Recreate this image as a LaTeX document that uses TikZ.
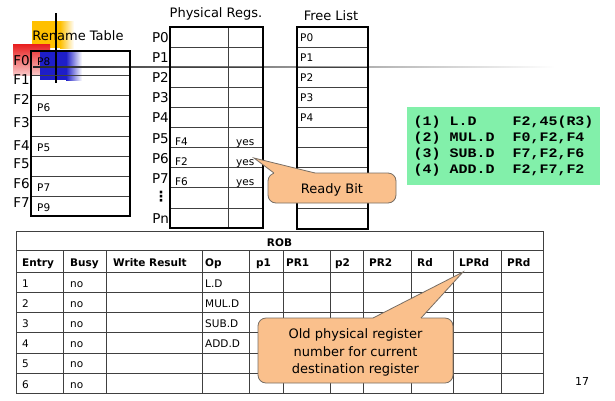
\documentclass[tikz,border=0pt]{standalone}
\usepackage{fontspec}
\setmainfont{DejaVu Sans}
\newfontfamily\codefont{Liberation Mono}[FakeStretch=1.15]
\definecolor{decoyellow}{RGB}{255,192,0}
\definecolor{decored}{RGB}{232,30,30}
\definecolor{decoblue}{RGB}{30,30,200}
\definecolor{codegreen}{RGB}{130,240,170}
\definecolor{callfill}{RGB}{250,192,140}
\definecolor{callline}{RGB}{120,110,100}
\begin{document}
\begin{tikzpicture}[x=1pt,y=-1pt,
  lbl/.style={inner sep=0,anchor=base east,font=\fontsize{13.5}{16}\selectfont},
  ttl/.style={inner sep=0,anchor=base,font=\fontsize{13}{15}\selectfont},
  cell/.style={inner sep=0,anchor=base west,font=\fontsize{10.5}{12}\selectfont},
  rcell/.style={inner sep=0,anchor=base west,font=\fontsize{10.5}{12}\selectfont},
  hdr/.style={inner sep=0,anchor=base west,font=\bfseries\fontsize{10.5}{12}\selectfont},
  code/.style={inner sep=0,anchor=base west,font=\codefont\bfseries\fontsize{13}{15}\selectfont},
  outer/.style={draw=black,line width=1.3},
  inner/.style={draw=black!75,line width=0.8},
  callout/.style={fill=callfill,draw=callline,line width=0.8,rounded corners=8},
  callt/.style={inner sep=0,anchor=base,font=\fontsize{13}{15}\selectfont},
]
\useasboundingbox (0,0) rectangle (615,400);
\fill[white] (0,0) rectangle (615,400);

% decoration
\fill[decoyellow] (32,21) rectangle (60,48);
\shade[left color=decoyellow,right color=white] (60,21) rectangle (74,48);
\shade[top color=decored,bottom color=decored!25] (13,44) rectangle (50,75);
\fill[decoblue] (40,52) rectangle (66,80);
\shade[left color=decoblue,right color=white] (66,52) rectangle (82,80);
\shade[left color=black!85,middle color=black!30,right color=white] (33,66.2) rectangle (555,67.8);
\draw[black,line width=1.5] (56,13) -- (56,83);

% rename table
\node[ttl] (rttitle) at (78,40) {Rename Table};
\draw[inner] foreach \y in {75,95,116,136,156,176,196} {(31,\y) -- (130,\y)};
\draw[outer] (31,51) rectangle (130,216);
\foreach \t/\b [count=\i from 0] in {F0/65,F1/84,F2/104,F3/127,F4/150,F5/168,F6/188,F7/207}
  \node[lbl] (rl\i) at (30,\b) {\t};
\foreach \t/\b [count=\i] in {P8/65,P6/111,P5/151,P7/191,P9/211}
  \node[rcell] (re\i) at (37,\b) {\t};

% physical registers
\node[ttl] (prtitle) at (216,17) {Physical Regs.};
\draw[inner] foreach \k in {1,...,9} {(170,27+20.1*\k) -- (263,27+20.1*\k)};
\draw[inner] (228,27) -- (228,228);
\draw[outer] (170,27) rectangle (263,228);
\foreach \t [count=\i from 0] in {P0,P1,P2,P3,P4,P5,P6,P7}
  \node[lbl] (pl\i) at (169,42.5+20.1*\i) {\t};
\node[inner sep=0,anchor=center,font=\bfseries\fontsize{14}{16}\selectfont] (pldots) at (161,197) {⋮};
\node[lbl] (pln) at (169,223) {Pn};
\foreach \f [count=\i from 0] in {F4,F2,F6} {
  \node[cell] (pf\i) at (175,145+20.1*\i) {\f};
  \node[cell] (py\i) at (236,145+20.1*\i) {yes};
}

% free list
\node[ttl] (fltitle) at (331,20) {Free List};
\draw[inner] foreach \k in {1,...,9} {(297,27+20.1*\k) -- (368,27+20.1*\k)};
\draw[outer] (297,27) rectangle (368,229);
\foreach \t [count=\i from 0] in {P0,P1,P2,P3,P4}
  \node[cell] (fl\i) at (300,41.5+20.1*\i) {\t};

% code box
\fill[codegreen] (407,107) rectangle (600,185);
\node[code] (c1a) at (413.5,125.7) {(1)};
\node[code] (c1b) at (449.5,125.7) {L.D};
\node[code] (c1c) at (512.5,125.7) {F2,45(R3)};
\node[code] (c2a) at (413.5,141.7) {(2)};
\node[code] (c2b) at (449.5,141.7) {MUL.D};
\node[code] (c2c) at (512.5,141.7) {F0,F2,F4};
\node[code] (c3a) at (413.5,157.7) {(3)};
\node[code] (c3b) at (449.5,157.7) {SUB.D};
\node[code] (c3c) at (512.5,157.7) {F7,F2,F6};
\node[code] (c4a) at (413.5,173.7) {(4)};
\node[code] (c4b) at (449.5,173.7) {ADD.D};
\node[code] (c4c) at (512.5,173.7) {F2,F7,F2};

% ready bit callout
\coordinate (rbtip) at (254,158);
\draw[callout] (268,173) rectangle (396,203);
\fill[callfill] (274,173) -- (rbtip) -- (315,173) -- (315,175) -- (274,175) -- cycle;
\draw[callline,line width=0.8] (274,173) -- (rbtip) -- (315,173);
\node[callt] (rbtext) at (332,193) {Ready Bit};

% ROB
\draw[inner] foreach \y in {250,272,292,312,332,353,373} {(16,\y) -- (543,\y)};
\draw[inner] foreach \x in {63,106,202,249,283,330,363,411,453,501} {(\x,250) -- (\x,393)};
\draw[inner,line width=1] (16,231) rectangle (543,393);
\node[inner sep=0,anchor=base,font=\bfseries\fontsize{10.5}{12}\selectfont] (robtitle) at (279.5,246) {ROB};
\foreach \x/\t [count=\i] in {22/Entry,70/Busy,113/Write Result,205/Op,256/p1,286/PR1,335/p2,369/PR2,417/Rd,459/LPRd,507/PRd}
  \node[hdr] (h\i) at (\x,266) {\t};
\foreach \i in {1,...,6} {
  \node[rcell] (ren\i) at (22,287+20.2*\i-20.2) {\i};
  \node[rcell] (rb\i) at (70,287+20.2*\i-20.2) {no};
}
\foreach \t [count=\i] in {L.D,MUL.D,SUB.D,ADD.D}
  \node[rcell] (rop\i) at (205,287+20.2*\i-20.2) {\t};

% LPRd callout
\coordinate (lptip) at (463,272);
\draw[callout] (258,318) rectangle (453,383);
\fill[callfill] (373,318) -- (lptip) -- (421,318) -- (421,320) -- (373,320) -- cycle;
\draw[callline,line width=0.8] (373,318) -- (lptip) -- (421,318);
\node[callt] (lp1) at (355.5,338) {Old physical register};
\node[callt] (lp2) at (355.5,356) {number for current};
\node[callt] (lp3) at (355.5,373) {destination register};

\node[inner sep=0,anchor=base,font=\fontsize{11}{13}\selectfont] (pagenum) at (582,385) {17};
\end{tikzpicture}
\end{document}
